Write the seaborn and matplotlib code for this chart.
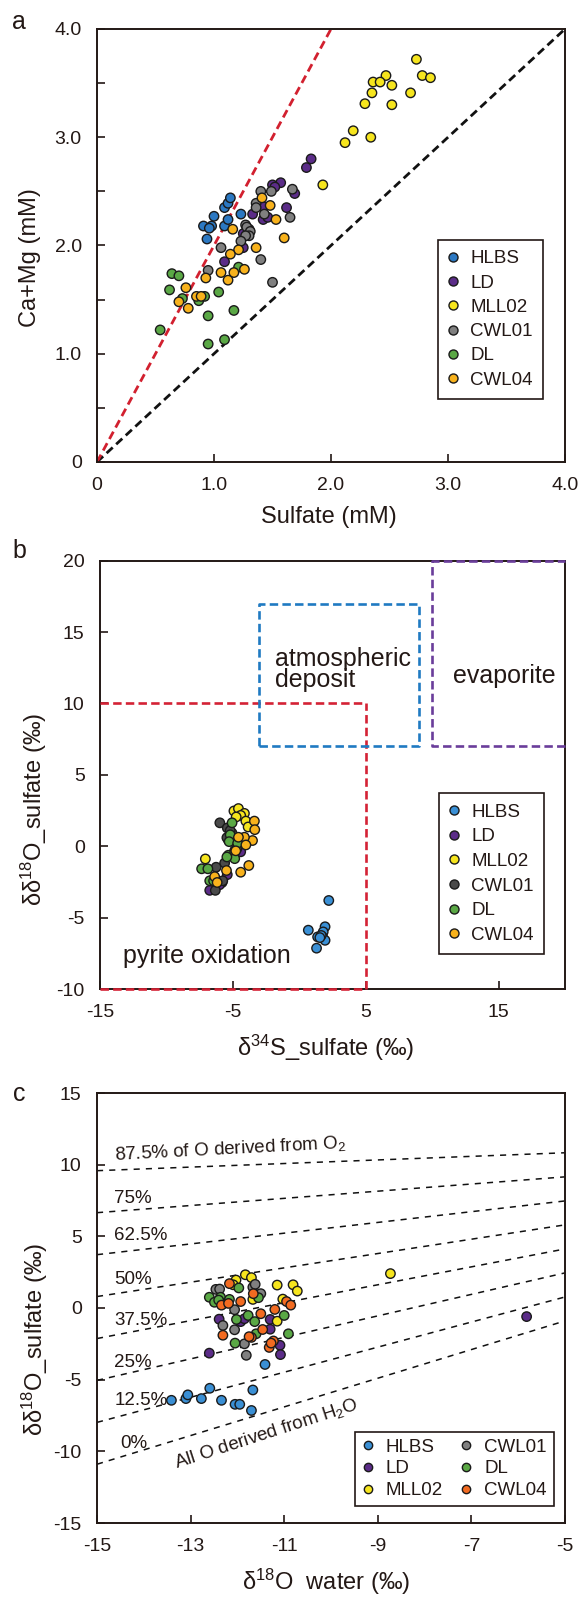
import numpy as np
import pandas as pd
import matplotlib
matplotlib.use('Agg')
import matplotlib.pyplot as plt
import seaborn as sns
from matplotlib.lines import Line2D

sns.set_theme(style='white')
plt.rcParams['font.family'] = ['Liberation Sans', 'DejaVu Sans']
plt.rcParams['axes.unicode_minus'] = False
plt.rcParams['mathtext.fontset'] = 'custom'
plt.rcParams['mathtext.rm'] = 'Liberation Sans'
plt.rcParams['mathtext.it'] = 'Liberation Sans:italic'
plt.rcParams['mathtext.bf'] = 'Liberation Sans:bold'

TXT = '#231815'
groups = ['HLBS', 'LD', 'MLL02', 'CWL01', 'DL', 'CWL04']

# ---------------- Panel a : Ca+Mg vs sulfate ----------------
a_HLBS_x = [0.91, 0.98, 0.96, 1.00, 1.09, 1.12, 1.14, 0.94, 1.09, 1.12, 1.23]
a_HLBS_y = [2.18, 2.18, 2.16, 2.27, 2.35, 2.39, 2.44, 2.06, 2.18, 2.24, 2.29]
a_LD_x = [1.83, 1.79, 1.57, 1.50, 1.52, 1.69, 1.62, 1.33, 1.42, 1.46, 1.25, 1.25, 1.09, 1.42, 1.30]
a_LD_y = [2.80, 2.72, 2.58, 2.56, 2.54, 2.48, 2.35, 2.29, 2.24, 2.26, 2.11, 1.98, 1.85, 2.36, 2.15]
a_MLL02_x = [2.73, 2.78, 2.85, 2.47, 2.36, 2.42, 2.52, 2.35, 2.68, 2.29, 2.52, 2.19, 2.12, 2.34, 1.93]
a_MLL02_y = [3.72, 3.57, 3.55, 3.57, 3.51, 3.51, 3.48, 3.41, 3.41, 3.31, 3.30, 3.06, 2.95, 3.00, 2.56]
a_CWL01_x = [1.40, 1.49, 1.67, 1.65, 1.36, 1.36, 1.43, 1.27, 1.28, 1.31, 1.30, 1.27, 1.23, 1.06, 1.40, 0.95, 1.50]
a_CWL01_y = [2.50, 2.50, 2.52, 2.26, 2.39, 2.35, 2.29, 2.19, 2.17, 2.13, 2.09, 2.09, 2.04, 1.98, 1.87, 1.77, 1.66]
a_DL_x = [0.64, 0.70, 0.62, 0.73, 0.87, 0.92, 1.04, 1.21, 0.95, 1.17, 0.54, 0.95, 1.09]
a_DL_y = [1.74, 1.72, 1.59, 1.51, 1.49, 1.53, 1.57, 1.80, 1.35, 1.40, 1.22, 1.09, 1.13]
a_CWL04_x = [1.41, 1.48, 1.53, 1.60, 1.16, 1.36, 1.21, 1.14, 1.26, 1.17, 1.06, 1.12, 0.93, 0.76, 0.85, 0.89, 0.70, 0.78]
a_CWL04_y = [2.44, 2.37, 2.24, 2.07, 2.15, 1.98, 1.96, 1.92, 1.78, 1.75, 1.75, 1.68, 1.70, 1.61, 1.53, 1.53, 1.48, 1.42]
a_ref_x = [0.0, 4.0]
a_slope_black = 1.0
a_slope_red = 2.0

# ---------------- Panel b : d18O vs d34S ----------------
b_HLBS_x = [2.22, 0.68, 1.94, 1.80, 1.38, 1.75, 1.94, 1.30, 1.65, 1.55]
b_HLBS_y = [-3.80, -5.88, -5.64, -6.00, -6.35, -6.35, -6.59, -7.14, -6.25, -6.40]
b_LD_x = [-6.74, -5.42, -4.41, -5.81, -4.86, -6.00]
b_LD_y = [-3.09, -1.99, -0.39, -2.54, -0.30, -2.70]
b_MLL02_x = [-4.92, -4.58, -4.13, -4.41, -4.02, -3.85, -7.07, -4.75]
b_MLL02_y = [2.47, 2.64, 2.30, 2.16, 1.76, 1.35, -0.89, 2.05]
b_CWL01_x = [-5.98, -5.42, -5.34, -5.06, -5.62, -6.26, -6.32, -5.76, -4.69, -5.20, -5.45]
b_CWL01_y = [1.64, 1.28, 0.44, 0.92, -1.18, -1.47, -3.09, -2.42, -0.15, 1.10, 0.60]
b_DL_x = [-5.06, -5.20, -5.28, -4.64, -5.34, -4.86, -4.86, -5.45, -7.35, -6.88, -6.74, -6.45]
b_DL_y = [1.64, 0.80, 0.32, 0.21, -0.63, -0.39, -0.87, -0.75, -1.58, -1.58, -2.42, -2.42]
b_CWL04_x = [-3.38, -3.35, -3.52, -4.13, -4.58, -4.02, -4.78, -3.80, -4.41, -5.48, -6.37, -6.18]
b_CWL04_y = [1.76, 1.16, 0.40, 0.63, 0.63, 0.09, -0.32, -1.35, -1.82, -1.70, -2.13, -2.54]
pyrite_box_x = [-15, 5]
pyrite_box_y = [-10, 10]
atmos_box_x = [-3, 9]
atmos_box_y = [7, 17]
evap_box_x = [10, 20]
evap_box_y = [7, 20]

# ---------------- Panel c : d18O sulfate vs d18O water ----------------
c_HLBS_x = [-13.41, -13.10, -13.06, -12.77, -12.59, -12.34, -12.05, -11.95, -11.70, -11.67, -11.41]
c_HLBS_y = [-6.44, -6.32, -6.06, -6.32, -5.60, -6.44, -6.72, -6.72, -7.15, -5.72, -3.94]
c_LD_x = [-5.82, -12.60, -12.39, -11.93, -11.85, -11.30, -11.30, -11.09, -11.08]
c_LD_y = [-0.60, -3.15, -0.78, -0.95, -0.75, -0.80, -1.48, -2.60, -3.25]
c_MLL02_x = [-12.03, -11.83, -11.70, -12.09, -11.15, -10.81, -10.72, -11.03, -11.67, -11.15, -8.73]
c_MLL02_y = [1.95, 2.32, 2.12, 1.62, 1.60, 1.62, 1.18, 0.62, 0.60, -0.92, 2.40]
c_CWL01_x = [-12.46, -12.38, -11.67, -11.50, -11.62, -12.06, -12.31, -12.06, -11.85, -11.81]
c_CWL01_y = [1.30, 1.32, 1.45, 1.00, 1.65, -0.12, -1.22, -1.52, -2.50, -3.30]
c_DL_x = [-12.60, -12.36, -12.49, -12.30, -12.17, -11.97, -11.55, -12.02, -11.77, -11.63, -12.05, -11.60, -11.00, -10.91, -12.40]
c_DL_y = [0.75, 0.75, 0.40, 0.30, 0.60, 1.40, 0.72, -0.80, -0.52, -0.95, -2.45, -1.80, -0.52, -1.80, 0.55]
c_CWL04_x = [-12.17, -11.66, -11.93, -12.34, -12.19, -11.20, -10.95, -10.86, -11.50, -12.31, -11.46, -11.70, -11.75, -11.23, -11.32, -11.28]
c_CWL04_y = [1.70, 1.00, 0.45, 0.20, 0.32, -0.10, 0.45, 0.20, -0.40, -1.90, -1.50, -2.05, -2.00, -2.30, -2.75, -2.45]
mix_x = [-15, -5]
mix_y_left = [9.58, 6.65, 3.72, 0.80, -2.13, -5.05, -7.98, -10.90]
mix_y_right = [10.83, 9.15, 7.47, 5.80, 4.12, 2.45, 0.77, -0.90]
mix_labels = ['87.5% of O derived from O$_2$', '75%', '62.5%', '50%', '37.5%', '25%', '12.5%', '0%']
mix_label_x = [-14.63, -14.63, -14.63, -14.63, -14.63, -14.63, -14.63, -14.5]
mix_label_y = [10.65, 7.62, 5.05, 2.0, -0.89, -3.82, -6.48, -9.46]

pal_a = {'HLBS': '#2b78c2', 'LD': '#5b2c88', 'MLL02': '#f6e51e', 'CWL01': '#808080',
         'DL': '#5aa845', 'CWL04': '#f8b21c'}
pal_b = {'HLBS': '#3a90d6', 'LD': '#5b2c88', 'MLL02': '#f6e51e', 'CWL01': '#4a4a4a',
         'DL': '#5aa845', 'CWL04': '#f8b21c'}
pal_c = {'HLBS': '#3a8fd4', 'LD': '#5b2c88', 'MLL02': '#f6e51e', 'CWL01': '#808080',
         'DL': '#5aa845', 'CWL04': '#f26b21'}

data_a = {'HLBS': (a_HLBS_x, a_HLBS_y), 'LD': (a_LD_x, a_LD_y), 'MLL02': (a_MLL02_x, a_MLL02_y),
          'CWL01': (a_CWL01_x, a_CWL01_y), 'DL': (a_DL_x, a_DL_y), 'CWL04': (a_CWL04_x, a_CWL04_y)}
data_b = {'HLBS': (b_HLBS_x, b_HLBS_y), 'LD': (b_LD_x, b_LD_y), 'MLL02': (b_MLL02_x, b_MLL02_y),
          'CWL01': (b_CWL01_x, b_CWL01_y), 'DL': (b_DL_x, b_DL_y), 'CWL04': (b_CWL04_x, b_CWL04_y)}
data_c = {'HLBS': (c_HLBS_x, c_HLBS_y), 'LD': (c_LD_x, c_LD_y), 'MLL02': (c_MLL02_x, c_MLL02_y),
          'CWL01': (c_CWL01_x, c_CWL01_y), 'DL': (c_DL_x, c_DL_y), 'CWL04': (c_CWL04_x, c_CWL04_y)}


def to_df(d):
    frames = [pd.DataFrame({'x': d[g][0], 'y': d[g][1], 'site': g}) for g in groups]
    return pd.concat(frames, ignore_index=True)


def scatter(ax, d, pal):
    sns.scatterplot(data=to_df(d), x='x', y='y', hue='site', hue_order=groups, palette=pal,
                    s=46, edgecolor='#1a1a1a', linewidth=1.0, legend=False, ax=ax, zorder=4)


def add_legend(ax, pal, anchor, ncol, msize, labelspacing, borderpad, handlelength,
               handletextpad, columnspacing=1.0, order=groups):
    handles = [Line2D([], [], ls='', marker='o', markersize=msize, markerfacecolor=pal[g],
                      markeredgecolor='#1a1a1a', markeredgewidth=1.0, label=g) for g in order]
    leg = ax.legend(handles=handles, loc='upper left', bbox_to_anchor=anchor, ncol=ncol,
                    frameon=True, fancybox=False, edgecolor=TXT, framealpha=1, fontsize=13.5,
                    labelspacing=labelspacing, borderpad=borderpad, handlelength=handlelength,
                    handletextpad=handletextpad, columnspacing=columnspacing, borderaxespad=0)
    leg.get_frame().set_linewidth(1.2)
    for t in leg.get_texts():
        t.set_color(TXT)
    leg.set_zorder(6)
    return leg


def style(ax):
    ax.grid(False)
    for sp in ax.spines.values():
        sp.set_visible(True)
        sp.set_color(TXT)
        sp.set_linewidth(1.4)
    ax.tick_params(which='both', direction='in', length=6, width=1.2, color=TXT,
                   labelcolor=TXT, labelsize=14, pad=11, top=False, right=False,
                   left=True, bottom=True)


fig = plt.figure(figsize=(5.81, 15.99), dpi=100)
axa = fig.add_axes([97 / 581, 1 - 462 / 1599, 468 / 581, 433 / 1599])
axb = fig.add_axes([100 / 581, 1 - 989 / 1599, 465 / 581, 428.3 / 1599])
axc = fig.add_axes([97 / 581, 1 - 1523 / 1599, 468 / 581, 430 / 1599])

# ----- a -----
axa.plot(a_ref_x, [a_slope_black * v for v in a_ref_x], color='#111111', lw=2.0,
         dashes=(3, 1.7), zorder=2)
axa.plot(a_ref_x, [a_slope_red * v for v in a_ref_x], color='#d2202f', lw=2.0,
         dashes=(3, 1.7), zorder=2)
scatter(axa, data_a, pal_a)
axa.set_xlim(0, 4)
axa.set_ylim(0, 4)
axa.set_xticks([0, 1, 2, 3, 4], ['0', '1.0', '2.0', '3.0', '4.0'])
axa.set_yticks([0, 1, 2, 3, 4], ['0', '1.0', '2.0', '3.0', '4.0'])
axa.set_yticks([0.5, 1.5, 2.5, 3.5], minor=True)
style(axa)
axa.set_xlabel('Sulfate (mM)', fontsize=17, color=TXT, va='center')
axa.set_ylabel('Ca+Mg (mM)', fontsize=17, color=TXT, va='center')
axa.xaxis.set_label_coords(0.496, -0.127)
axa.yaxis.set_label_coords(-0.1426, 0.472)
add_legend(axa, pal_a, (0.729, 0.5126), 1, 6.5, 0.38, 0.55, 0.5, 0.65)

# ----- b -----
red = '#d42235'
blue = '#1f7ac2'
purple = '#6a3d9a'
bdash = dict(lw=1.9, dashes=(3.2, 1.6), clip_on=False, zorder=5)
axb.plot(pyrite_box_x, [pyrite_box_y[1]] * 2, color=red, **bdash)
axb.plot([pyrite_box_x[1]] * 2, pyrite_box_y, color=red, **bdash)
axb.plot(pyrite_box_x, [pyrite_box_y[0]] * 2, color=red, **bdash)
axb.plot([atmos_box_x[0], atmos_box_x[1], atmos_box_x[1], atmos_box_x[0], atmos_box_x[0]],
         [atmos_box_y[0], atmos_box_y[0], atmos_box_y[1], atmos_box_y[1], atmos_box_y[0]],
         color=blue, **bdash)
axb.plot([evap_box_x[1], evap_box_x[0], evap_box_x[0], evap_box_x[1]],
         [evap_box_y[0], evap_box_y[0], evap_box_y[1], evap_box_y[1]], color=purple, **bdash)
scatter(axb, data_b, pal_b)
axb.set_xlim(-15, 20)
axb.set_ylim(-10, 20)
axb.set_xticks([-15, -5, 5, 15], ['-15', '-5', '5', '15'])
axb.set_yticks([-10, -5, 0, 5, 10, 15, 20], ['-10', '-5', '0', '5', '10', '15', '20'])
style(axb)
axb.text(-1.85, 12.4, 'atmospheric\ndeposit', fontsize=18, color=TXT, ha='left', va='center',
         linespacing=0.85)
axb.text(11.6, 11.9, 'evaporite', fontsize=18, color=TXT, ha='left', va='center')
axb.text(-13.3, -7.7, 'pyrite oxidation', fontsize=18, color=TXT, ha='left', va='center')
axb.set_xlabel('δ$^{34}$S_sulfate (‰)', fontsize=17, color=TXT, va='center')
axb.set_ylabel('δδ$^{18}$O_sulfate (‰)', fontsize=17, color=TXT, va='center')
axb.xaxis.set_label_coords(0.486, -0.138)
axb.yaxis.set_label_coords(-0.143, 0.419)
add_legend(axb, pal_b, (0.730, 0.457), 1, 6.5, 0.4, 0.55, 0.5, 0.65)

# ----- c -----
for yl, yr in zip(mix_y_left, mix_y_right):
    axc.plot(mix_x, [yl, yr], color='#111111', lw=1.1, dashes=(4, 4), zorder=2)
for lab, lx, ly in zip(mix_labels, mix_label_x, mix_label_y):
    rot = 3 if lab.startswith('87.5') else 0
    axc.text(lx, ly, lab, fontsize=13.5, color=TXT, ha='left', va='center', rotation=rot,
             rotation_mode='anchor')
axc.text(-11.37, -8.75, 'All O derived from H$_2$O', fontsize=13.5, color=TXT, ha='center',
         va='center', rotation=18, rotation_mode='anchor')
scatter(axc, data_c, pal_c)
axc.set_xlim(-15, -5)
axc.set_ylim(-15, 15)
axc.set_xticks([-15, -13, -11, -9, -7, -5], ['-15', '-13', '-11', '-9', '-7', '-5'])
axc.set_yticks([-15, -10, -5, 0, 5, 10, 15], ['-15', '-10', '-5', '0', '5', '10', '15'])
style(axc)
axc.set_xlabel('δ$^{18}$O  water (‰)', fontsize=17, color=TXT, va='center')
axc.set_ylabel('δδ$^{18}$O_sulfate (‰)', fontsize=17, color=TXT, va='center')
axc.xaxis.set_label_coords(0.49, -0.137)
axc.yaxis.set_label_coords(-0.1325, 0.426)
order_c = ['HLBS', 'CWL01', 'LD', 'DL', 'MLL02', 'CWL04']
add_legend(axc, pal_c, (0.551, 0.2125), 2, 6.0, 0.25, 0.36, 0.68, 0.62, columnspacing=0.9)

# panel letters
fig.text(19 / 581, 1 - 22 / 1599, 'a', fontsize=18, color=TXT, ha='center', va='center')
fig.text(19 / 581, 1 - 551 / 1599, 'b', fontsize=18, color=TXT, ha='center', va='center')
fig.text(19 / 581, 1 - 1094 / 1599, 'c', fontsize=18, color=TXT, ha='center', va='center')

fig.savefig('out.png', dpi=100, facecolor='white')
